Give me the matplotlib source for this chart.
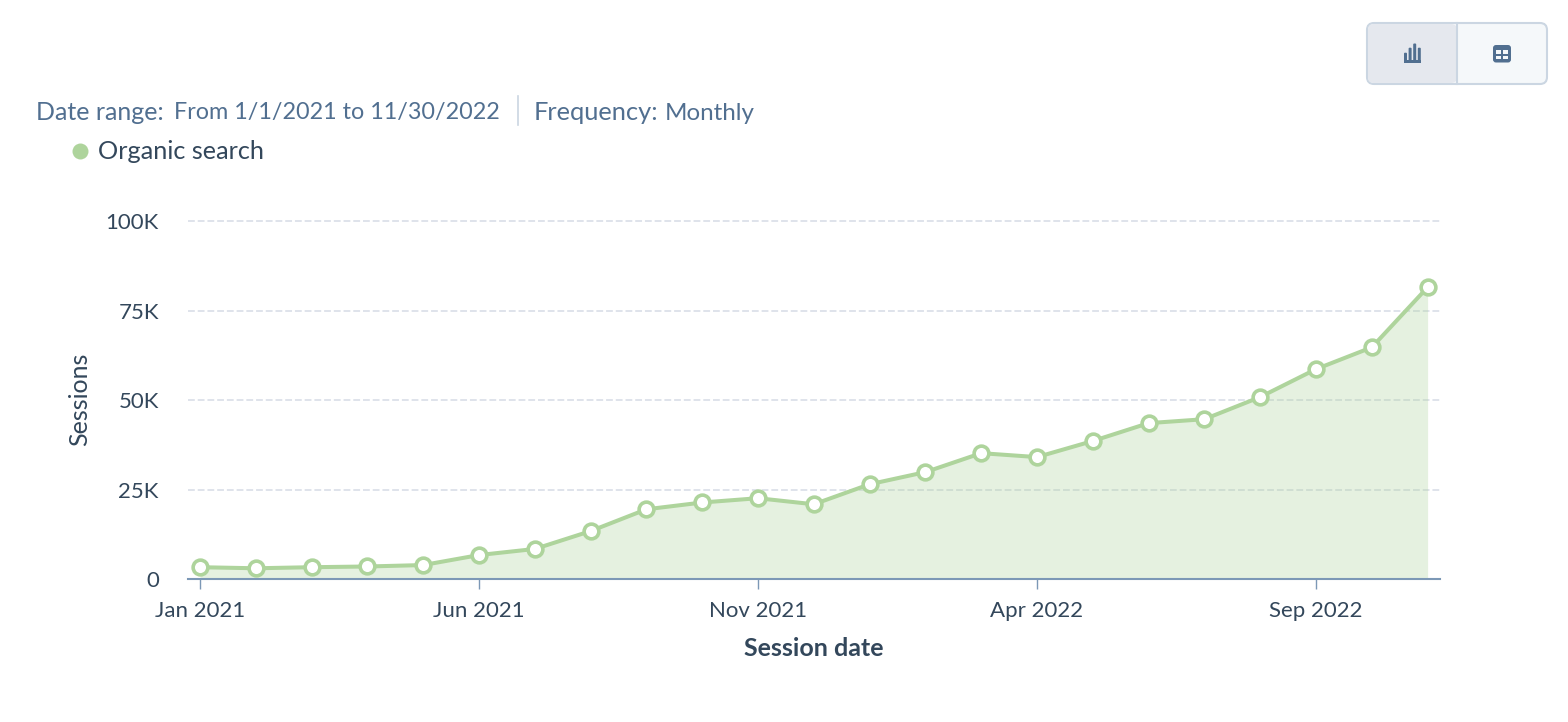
import matplotlib
matplotlib.use("Agg")
import matplotlib.pyplot as plt
from matplotlib.patches import FancyBboxPatch, Rectangle

W, H = 1568, 722

months = ["Jan 2021", "Feb 2021", "Mar 2021", "Apr 2021", "May 2021", "Jun 2021",
          "Jul 2021", "Aug 2021", "Sep 2021", "Oct 2021", "Nov 2021", "Dec 2021",
          "Jan 2022", "Feb 2022", "Mar 2022", "Apr 2022", "May 2022", "Jun 2022",
          "Jul 2022", "Aug 2022", "Sep 2022", "Oct 2022", "Nov 2022"]
sessions = [3300, 3000, 3300, 3500, 3900, 6700, 8400, 13400, 19500, 21400, 22600, 20900,
            26500, 29900, 35200, 34100, 38600, 43600, 44700, 50900, 58700, 64800, 81600]
y_ticks = [0, 25000, 50000, 75000, 100000]
y_labels = ["0", "25K", "50K", "75K", "100K"]
x_ticks = [0, 5, 10, 15, 20]

GREEN = "#aed49c"
DARK = "#33475b"
BLUE = "#516f90"
AXIS = "#7c98b6"

plt.rcParams["font.family"] = ["Lato", "DejaVu Sans"]

fig = plt.figure(figsize=(W / 100, H / 100), dpi=100, facecolor="white")

# overlay in pixel coords for the header stuff
bg = fig.add_axes([0, 0, 1, 1])
bg.set_xlim(0, W)
bg.set_ylim(H, 0)
bg.axis("off")

ax = fig.add_axes([188 / W, 1 - 579 / H, (1440 - 188) / W, (579 - 221.5) / H])
ax.set_facecolor("none")
x = list(range(len(sessions)))
ax.fill_between(x, sessions, 0, color=GREEN, alpha=0.31, lw=0, zorder=1)
ax.plot(x, sessions, color=GREEN, lw=2.9, marker="o", ms=10.6, mfc="white", mec=GREEN, mew=2.6,
        zorder=3, clip_on=False)
ax.set_xlim((188 - 200) / 55.8, (1440 - 200) / 55.8)
ax.set_ylim(0, 100000)

ax.set_yticks(y_ticks)
ax.set_yticklabels(y_labels, fontsize=16, color=DARK)
ax.set_xticks(x_ticks)
ax.set_xticklabels([months[i] for i in x_ticks], fontsize=16, color=DARK)
ax.tick_params(axis="y", length=0, pad=21)
ax.tick_params(axis="x", length=7, width=1, color=AXIS, pad=9)
ax.grid(axis="y", color="#dfe3eb", lw=1.4, ls=(0, (3.5, 1.5)), zorder=0, clip_on=False)
ax.set_axisbelow(True)
for s in ["top", "left", "right"]:
    ax.spines[s].set_visible(False)
ax.spines["bottom"].set_color(AXIS)
ax.spines["bottom"].set_linewidth(1.5)
ax.spines["bottom"].set_zorder(2)

bg.text(814, 655.5, "Session date", fontsize=18, fontweight="bold", color=DARK, ha="center", va="baseline")
bg.text(79.5, 399, "Sessions", fontsize=18, color=DARK, rotation=90, ha="center", va="center")

# header
bg.text(36, 119.5, "Date range:", fontsize=18, color=BLUE, va="baseline")
bg.text(174, 119.5, "From 1/1/2021 to 11/30/2022", fontsize=16.85, color=BLUE, va="baseline")
bg.plot([518, 518], [96, 125], color="#cbd6e2", lw=1.2)
bg.text(534, 119.5, "Frequency:", fontsize=18.3, color=BLUE, va="baseline")
bg.text(665, 119.5, "Monthly", fontsize=17.4, color=BLUE, va="baseline")
bg.plot([80], [151], "o", color=GREEN, ms=11.5, mew=0)
bg.text(98, 159, "Organic search", fontsize=18.2, color=DARK, va="baseline")

# chart / table toggle
bg.add_patch(FancyBboxPatch((1367, 23), 180, 61, boxstyle="round,pad=0,rounding_size=7",
                            fc="#f5f8fa", ec="#cbd6e2", lw=1.5))
bg.add_patch(FancyBboxPatch((1368, 24), 89, 59, boxstyle="round,pad=0,rounding_size=6",
                            fc="#e5e8ee", ec="none"))
bg.plot([1457.5, 1457.5], [23, 84], color="#cbd6e2", lw=1.5)
for bx, top in zip([1404, 1408.6, 1413.2, 1417.8], [52.7, 47.7, 43.5, 47.7]):
    bg.add_patch(FancyBboxPatch((bx, top), 3, 63 - top, boxstyle="round,pad=0,rounding_size=1",
                                fc=BLUE, ec="none"))
bg.add_patch(Rectangle((1404, 60), 16.8, 3, fc=BLUE, ec="none"))
bg.add_patch(FancyBboxPatch((1493, 45), 18, 17.5, boxstyle="round,pad=0,rounding_size=3", fc=BLUE, ec="none"))
for tx, ty, th in [(1495.7, 50, 4.3), (1503, 50, 4.3), (1495.7, 55.7, 3.6), (1503, 55.7, 3.6)]:
    bg.add_patch(Rectangle((tx, ty), 5.2, th, fc="#f5f8fa", ec="none"))

fig.savefig("out.png", dpi=100)
